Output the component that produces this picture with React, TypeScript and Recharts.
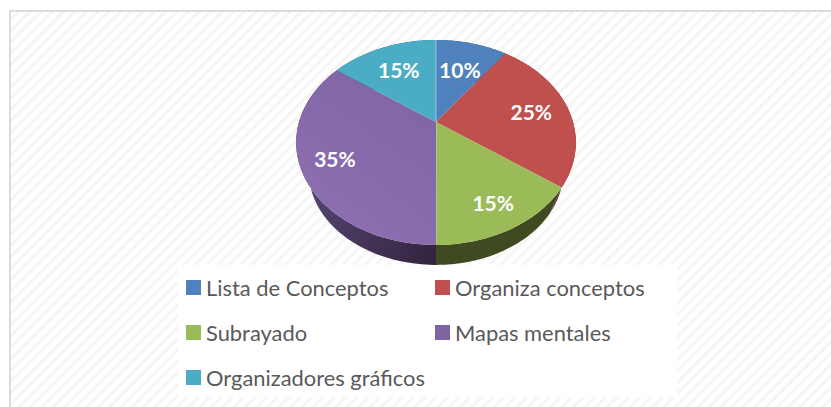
import { PieChart, Pie, Legend } from "recharts";

const categories = ["Lista de Conceptos", "Organiza conceptos", "Subrayado", "Mapas mentales", "Organizadores gráficos"];
const shares = [10, 25, 15, 35, 15];
const topColors = ["#4f81bd", "#c0504d", "#9bbb59", "url(#purpleTop)", "#4bacc6"];
const swatchColors = ["#4f81bd", "#c0504d", "#9bbb59", "#8064a2", "#4bacc6"];
const wallColors = ["#2c4a6e", "#6b2b29", "#3f4a20", "url(#purpleWall)", "#2a6475"];

const data = categories.map((name, i) => ({ name, value: shares[i], fill: topColors[i], wall: wallColors[i], swatch: swatchColors[i] }));

// the tilted disc: recharts gives the angles, this bends them into perspective
const TILT = 0.2;
const SQUASH = 0.718;
const WALL_DROP = 31;
const WALL_SCALE = 0.91;
const LABEL_REACH = [0.63, 0.72, 0.79, 0.77, 0.67];

function project(cx: number, cy: number, r: number, deg: number, reach = 1) {
  const rad = (deg * Math.PI) / 180;
  const u = Math.cos(rad) * reach;
  const v = Math.sin(rad) * reach;
  const d = 1 + TILT * v;
  return { x: cx + (r * u) / d, y: cy - (r * SQUASH * v) / d };
}

function rimPoints(props: any, drop = 0, scale = 1) {
  const { cx, cy, outerRadius, startAngle, endAngle } = props;
  const pts = [];
  for (let i = 0; i <= 48; i++) {
    const a = startAngle + ((endAngle - startAngle) * i) / 48;
    const p = project(0, 0, outerRadius, a);
    pts.push({ x: cx + p.x * scale, y: cy + drop + p.y * scale });
  }
  return pts;
}

const toPath = (pts: { x: number; y: number }[]) => pts.map((p, i) => `${i ? "L" : "M"}${p.x} ${p.y}`).join(" ");

function TopSlice(props: any) {
  const { cx, cy, fill } = props;
  const rim = rimPoints(props);
  const last = rim[rim.length - 1];
  // office draws a pale seam on the vertical cuts
  const seam = Math.abs(last.x - cx) < 0.5;
  return (
    <g>
      <path d={`M${cx} ${cy} ${toPath(rim).replace("M", "L")} Z`} fill={fill} />
      {seam && <line x1={cx} y1={cy} x2={last.x} y2={last.y} stroke="#ffffff" strokeOpacity={0.45} strokeWidth={1} />}
    </g>
  );
}

function WallSlice(props: any) {
  const upper = rimPoints(props);
  const lower = rimPoints(props, WALL_DROP, WALL_SCALE).reverse();
  return <path d={`${toPath(upper)} ${toPath(lower).replace("M", "L")} Z`} fill={props.payload.wall} />;
}

function SliceLabel(props: any) {
  const { cx, cy, outerRadius, midAngle, percent, index } = props;
  const p = project(cx, cy, outerRadius, midAngle, LABEL_REACH[index]);
  return (
    <text x={p.x} y={p.y} fill="#ffffff" textAnchor="middle" dominantBaseline="central" fontFamily="Lato" fontWeight={700} fontSize={21}>
      {`${Math.round(percent * 100)}%`}
    </text>
  );
}

function LegendBox({ payload }: any) {
  const items = (payload || []).filter((p: any) => p.type !== "none");
  return (
    <div style={{ display: "grid", gridTemplateColumns: "249px 240px", gridAutoRows: "45px", paddingLeft: 8, background: "#ffffff", height: 132, width: 499, boxSizing: "border-box", alignItems: "center" }}>
      {items.map((it: any) => (
        <div key={it.value} style={{ display: "flex", alignItems: "center", fontFamily: "Lato", fontSize: 21.9, color: "#595959", whiteSpace: "nowrap" }}>
          <span style={{ width: 15, height: 15, background: it.payload.swatch, marginRight: 5 }} />
          {it.value}
        </div>
      ))}
    </div>
  );
}

export default function App() {
  return (
    <div style={{ position: "fixed", left: 0, top: 0, width: 831, height: 407, overflow: "hidden", background: "#ffffff" }}>
      <div
        style={{
          position: "absolute",
          left: 9,
          top: 10,
          width: 822,
          height: 397,
          borderLeft: "2px solid #dcdcdc",
          borderTop: "2px solid #dcdcdc",
          boxSizing: "border-box",
          background: "repeating-linear-gradient(135deg, #ffffff 0 3px, #f5f5f5 4px 6px, #ffffff 7px 8px)",
        }}
      />
      <PieChart width={831} height={407} margin={{ top: 0, right: 0, bottom: 0, left: 0 }} style={{ position: "absolute", left: 0, top: 0 }}>
        <defs>
          <linearGradient id="purpleTop" gradientUnits="userSpaceOnUse" x1="300" y1="240" x2="430" y2="60">
            <stop offset="0" stopColor="#8f70b4" />
            <stop offset="1" stopColor="#7f63a1" />
          </linearGradient>
          <linearGradient id="purpleWall" gradientUnits="userSpaceOnUse" x1="310" y1="200" x2="436" y2="260">
            <stop offset="0" stopColor="#54436f" />
            <stop offset="1" stopColor="#32243f" />
          </linearGradient>
        </defs>
        <Pie
          data={data}
          dataKey="value"
          nameKey="name"
          cx={436}
          cy={122}
          outerRadius={137}
          startAngle={90}
          endAngle={-270}
          legendType="none"
          label={false}
          labelLine={false}
          shape={WallSlice}
          isAnimationActive={false}
        />
        <Pie
          data={data}
          dataKey="value"
          nameKey="name"
          cx={436}
          cy={122}
          outerRadius={137}
          startAngle={90}
          endAngle={-270}
          legendType="square"
          label={SliceLabel}
          labelLine={false}
          shape={TopSlice}
          isAnimationActive={false}
        />
        <Legend
          content={<LegendBox />}
          itemSorter={null}
          wrapperStyle={{ position: "absolute", left: 178, top: 265, width: 499, height: 132 }}
        />
      </PieChart>
    </div>
  );
}
